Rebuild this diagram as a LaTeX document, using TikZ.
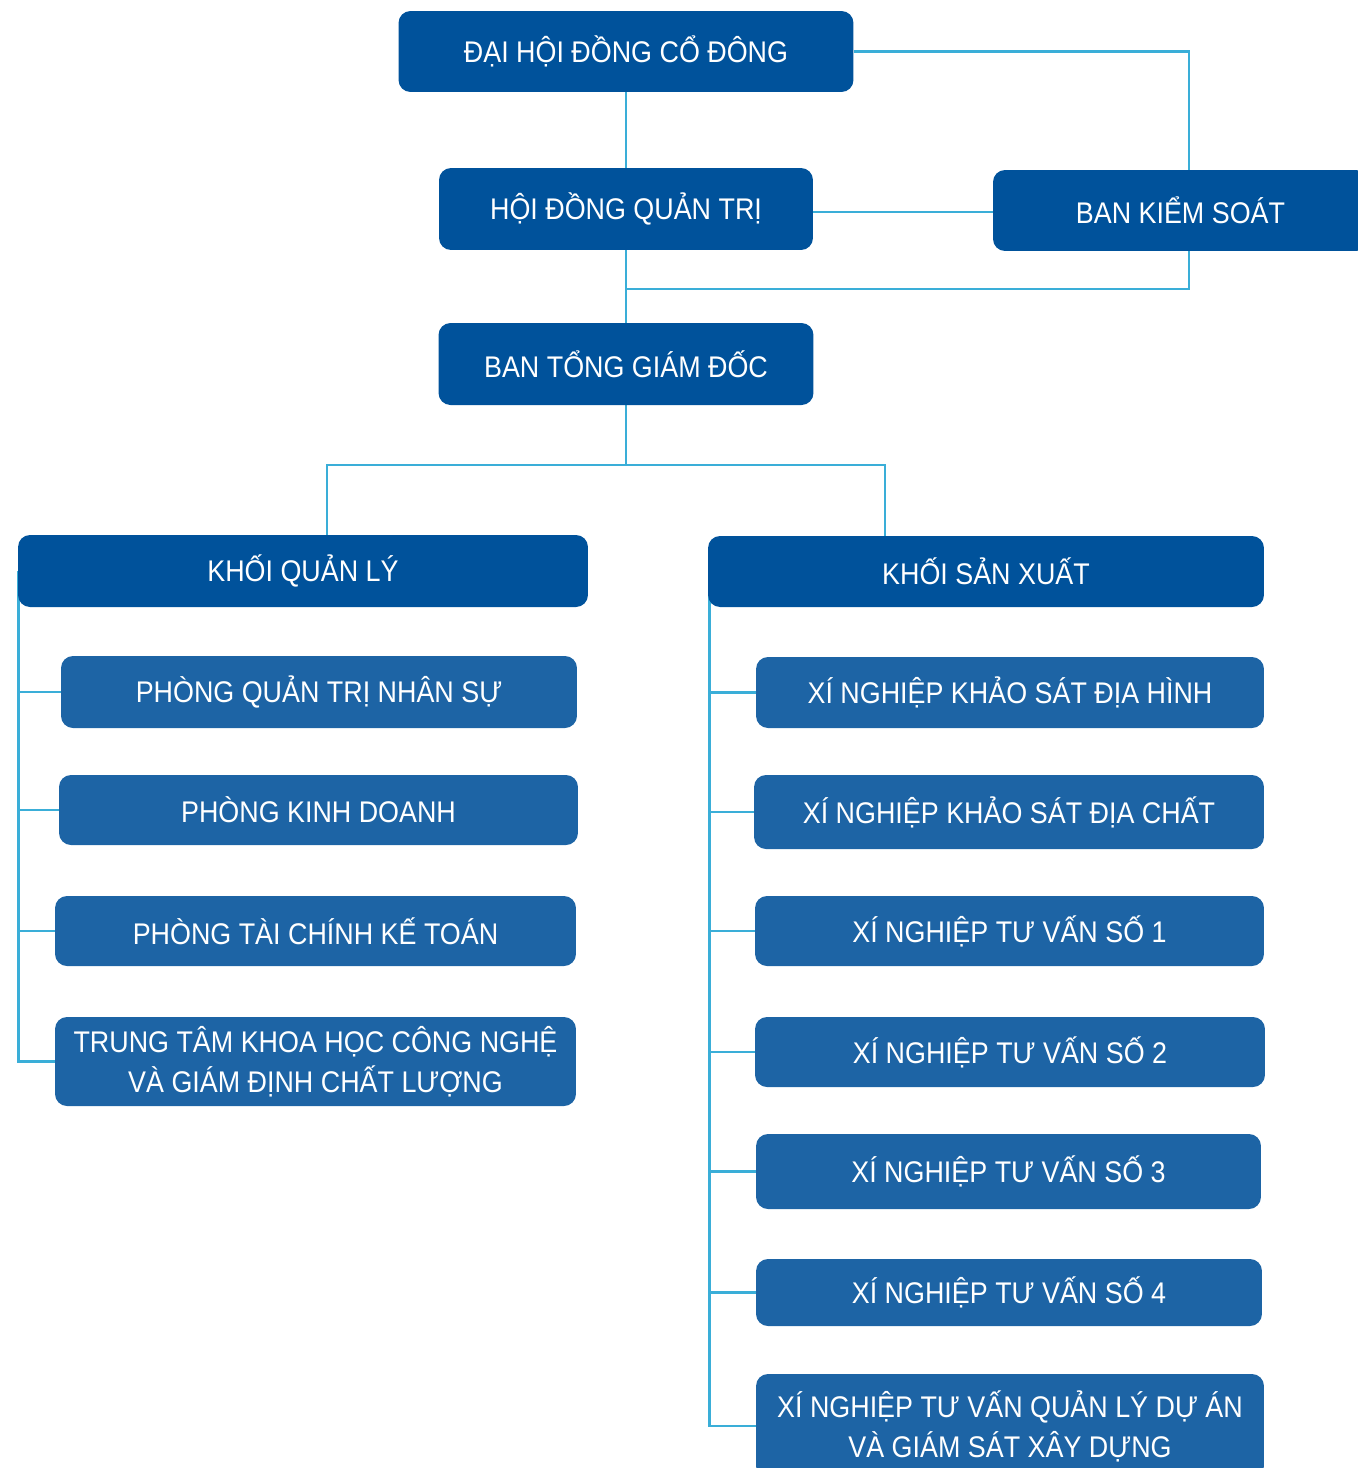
\documentclass[tikz,border=0pt]{standalone}
\usepackage{fontspec}
\setmainfont{Liberation Sans}[FakeStretch=0.9]
\usetikzlibrary{backgrounds}
\definecolor{boardblue}{RGB}{0,82,155}
\definecolor{deptblue}{RGB}{29,100,165}
\definecolor{linkblue}{RGB}{58,174,216}
\begin{document}
\begin{tikzpicture}[x=0.02cm,y=-0.02cm,
  head/.style={rectangle, fill=boardblue, text=white, rounded corners=6.8pt,
    inner sep=0pt, align=center, font=\fontsize{17}{22.8}\selectfont},
  unit/.style={head, fill=deptblue},
  link/.style={draw=linkblue, line width=1.6pt}]
\useasboundingbox (0,0) rectangle (1358,1468);

% top levels
\node[head, minimum width=9.1cm, minimum height=1.62cm] (dhdcd) at (626,51.5) {ĐẠI HỘI ĐỒNG CỔ ĐÔNG};
\node[head, minimum width=7.48cm, minimum height=1.64cm] (hdqt) at (626,209) {HỘI ĐỒNG QUẢN TRỊ};
\node[head, minimum width=7.5cm, minimum height=1.62cm] (bks) at (1180.5,210.5) {BAN KIỂM SOÁT};
\node[head, minimum width=7.5cm, minimum height=1.64cm] (btgd) at (626,364) {BAN TỔNG GIÁM ĐỐC};

% blocks
\node[head, minimum width=11.4cm, minimum height=1.44cm] (kql) at (303,571) {KHỐI QUẢN LÝ};
\node[head, minimum width=11.12cm, minimum height=1.42cm] (ksx) at (986,571.5) {KHỐI SẢN XUẤT};

% management units
\node[unit, minimum width=10.32cm, minimum height=1.44cm] (pqtns) at (319,692) {PHÒNG QUẢN TRỊ NHÂN SỰ};
\node[unit, minimum width=10.38cm, minimum height=1.4cm] (pkd) at (318.5,810) {PHÒNG KINH DOANH};
\node[unit, minimum width=10.42cm, minimum height=1.4cm] (ptckt) at (315.5,931) {PHÒNG TÀI CHÍNH KẾ TOÁN};
\node[unit, minimum width=10.42cm, minimum height=1.78cm] (ttkh) at (315.5,1061.5) {TRUNG TÂM KHOA HỌC CÔNG NGHỆ\\VÀ GIÁM ĐỊNH CHẤT LƯỢNG};

% production units
\node[unit, minimum width=10.16cm, minimum height=1.42cm] (ksdh) at (1010,692.5) {XÍ NGHIỆP KHẢO SÁT ĐỊA HÌNH};
\node[unit, minimum width=10.2cm, minimum height=1.48cm] (ksdc) at (1009,812) {XÍ NGHIỆP KHẢO SÁT ĐỊA CHẤT};
\node[unit, minimum width=10.18cm, minimum height=1.4cm] (tv1) at (1009.5,931) {XÍ NGHIỆP TƯ VẤN SỐ 1};
\node[unit, minimum width=10.2cm, minimum height=1.4cm] (tv2) at (1010,1052) {XÍ NGHIỆP TƯ VẤN SỐ 2};
\node[unit, minimum width=10.1cm, minimum height=1.5cm] (tv3) at (1008.5,1171.5) {XÍ NGHIỆP TƯ VẤN SỐ 3};
\node[unit, minimum width=10.12cm, minimum height=1.34cm] (tv4) at (1009,1292.5) {XÍ NGHIỆP TƯ VẤN SỐ 4};
\node[unit, minimum width=10.16cm, minimum height=2.08cm] (qlda) at (1010,1426) {XÍ NGHIỆP TƯ VẤN QUẢN LÝ DỰ ÁN\\VÀ GIÁM SÁT XÂY DỰNG};

\coordinate (tap) at (626,289);
\coordinate (split) at (626,465);

\begin{scope}[on background layer]
\draw[link] (dhdcd) -- (hdqt) -- (btgd) -- (split);
\draw[link] (dhdcd.east) -| ([xshift=0.17cm]bks.north);
\draw[link] ([yshift=-0.06cm]hdqt.east) -- ([yshift=-0.06cm]hdqt.east -| bks.west);
\draw[link] ([xshift=0.17cm]bks.south) |- (tap);
\draw[link] (split) -| ([xshift=0.48cm]kql.north);
\draw[link] (split) -| ([xshift=-2.02cm]ksx.north);
\foreach \c in {pqtns,pkd,ptckt,ttkh}
  \draw[link] ([xshift=0.02cm]kql.west) |- (\c.west);
\foreach \c in {ksdh,ksdc,tv1,tv2,tv3,tv4,qlda}
  \draw[link] ([xshift=0.04cm]ksx.west) |- (\c.west);
\end{scope}
\end{tikzpicture}
\end{document}
